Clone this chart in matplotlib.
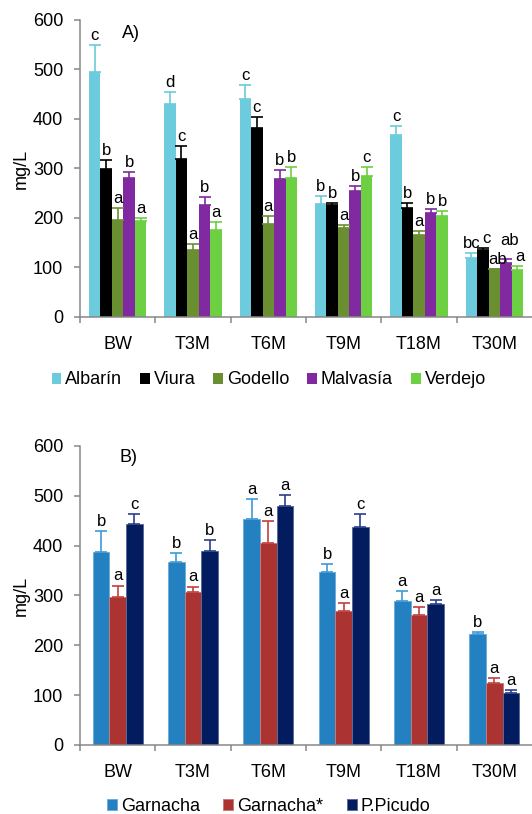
import numpy as np
import matplotlib
matplotlib.use("Agg")
import matplotlib.pyplot as plt
from matplotlib.colors import to_rgb

plt.rcParams['font.family'] = ['Liberation Sans', 'DejaVu Sans']

times = ['BW', 'T3M', 'T6M', 'T9M', 'T18M', 'T30M']

# Panel A - white varieties
white_names = ['Albarín', 'Viura', 'Godello', 'Malvasía', 'Verdejo']
white_colors = ['#6ccbdc', '#000000', '#6a8f30', '#8029a0', '#6dcf42']
albarin = [495, 431, 440, 229, 367, 119]
viura = [298, 320, 381, 226, 221, 135]
godello = [196, 135, 187, 179, 165, 96]
malvasia = [281, 227, 278, 254, 210, 110]
verdejo = [194, 176, 281, 284, 204, 94]
albarin_err = [55, 24, 29, 16, 19, 10]
viura_err = [19, 25, 22, 5, 10, 5]
godello_err = [24, 13, 16, 7, 8, 1]
malvasia_err = [11, 15, 19, 11, 8, 8]
verdejo_err = [6, 16, 22, 19, 10, 9]
albarin_let = ['c', 'd', 'c', 'b', 'c', 'bc']
viura_let = ['b', 'c', 'c', 'b', 'b', 'c']
godello_let = ['a', 'a', 'a', 'a', 'a', 'ab']
malvasia_let = ['b', 'b', 'b', 'b', 'b', 'ab']
verdejo_let = ['a', 'a', 'b', 'c', 'b', 'a']

# Panel B - red varieties
red_names = ['Garnacha', 'Garnacha*', 'P.Picudo']
red_colors = ['#2381c2', '#ab3433', '#031b5f']
red_err_colors = ['#3d9ad8', '#c23f3e', '#2a3f8c']
garnacha = [387, 367, 453, 348, 288, 222]
garnacha2 = [296, 307, 406, 268, 261, 124]
picudo = [444, 389, 480, 437, 283, 104]
garnacha_err = [43, 19, 40, 16, 21, 5]
garnacha2_err = [24, 11, 44, 16, 15, 10]
picudo_err = [19, 22, 21, 26, 7, 6]
garnacha_let = ['b', 'b', 'a', 'b', 'a', 'b']
garnacha2_let = ['a', 'a', 'a', 'a', 'a', 'a']
picudo_let = ['c', 'b', 'a', 'c', 'a', 'a']

white_vals = [albarin, viura, godello, malvasia, verdejo]
white_errs = [albarin_err, viura_err, godello_err, malvasia_err, verdejo_err]
white_lets = [albarin_let, viura_let, godello_let, malvasia_let, verdejo_let]
red_vals = [garnacha, garnacha2, picudo]
red_errs = [garnacha_err, garnacha2_err, picudo_err]
red_lets = [garnacha_let, garnacha2_let, picudo_let]

# nudges (points) for crowded letters at T30M in panel A: (series, time) -> (dx, dy)
nudges_A = {(1, 5): (2.5, 0), (2, 5): (2, 0), (3, 5): (3, 6), (4, 5): (2, 0)}

spine_col = '#878787'


def lighter(c, f=0.35):
    r, g, b = to_rgb(c)
    return (r + (1 - r) * f, g + (1 - g) * f, b + (1 - b) * f)


def style_axis(ax):
    ax.set_xlim(-0.5, len(times) - 0.5)
    ax.set_ylim(0, 600)
    ax.set_yticks(range(0, 601, 100))
    ax.spines['top'].set_visible(False)
    ax.spines['right'].set_visible(False)
    for s in ['left', 'bottom']:
        ax.spines[s].set_color(spine_col)
        ax.spines[s].set_linewidth(1.1)
    ax.set_xticks(np.arange(len(times)))
    ax.set_xticklabels(times)
    ax.set_xticks(np.arange(len(times)) - 0.5, minor=True)
    ax.tick_params(axis='x', which='major', length=0, pad=14, labelsize=13)
    ax.tick_params(axis='x', which='minor', length=4, width=1.1, color=spine_col)
    ax.tick_params(axis='y', length=4, width=1.1, color=spine_col, pad=8, labelsize=13)
    ax.set_ylabel('mg/L', fontsize=13)
    ax.yaxis.set_label_coords(-0.112, 0.5)


def grouped_bars(ax, vals, errs, lets, colors, err_colors, width, edge_lw, nudges=None):
    nudges = nudges or {}
    x = np.arange(len(times))
    n = len(vals)
    handles = []
    for i in range(n):
        pos = x + (i - (n - 1) / 2) * width
        v = np.array(vals[i])
        e = np.array(errs[i])
        b = ax.bar(pos, v, width, color=colors[i], edgecolor=lighter(colors[i]),
                   linewidth=edge_lw, yerr=[np.zeros_like(e), e],
                   error_kw=dict(ecolor=err_colors[i], elinewidth=1.2, capsize=4, capthick=1.2))
        handles.append(b)
        for j, (px, top, t) in enumerate(zip(pos, v + e, lets[i])):
            dx, dy = nudges.get((i, j), (0, 0))
            ax.annotate(t, (px, top), xytext=(dx, 1.5 + dy), textcoords='offset points',
                        ha='center', va='bottom', fontsize=12)
    return handles


fig = plt.figure(figsize=(5.32, 8.14), dpi=100)
axA = fig.add_axes([0.1504, 0.6106, 0.8496, 0.3649])
axB = fig.add_axes([0.1504, 0.0848, 0.8496, 0.3673])

style_axis(axA)
hA = grouped_bars(axA, white_vals, white_errs, white_lets, white_colors, white_colors,
                  0.153, 0, nudges_A)
axA.text(0.093, 0.956, 'A)', transform=axA.transAxes, ha='left', va='center', fontsize=13)

style_axis(axB)
hB = grouped_bars(axB, red_vals, red_errs, red_lets, red_colors, red_err_colors, 0.22, 0.7)
axB.text(0.088, 0.963, 'B)', transform=axB.transAxes, ha='left', va='center', fontsize=13)

fig.legend(hA, white_names, loc='center', bbox_to_anchor=(0.505, 0.5332), ncol=5,
           frameon=False, fontsize=13, handlelength=0.55, handleheight=0.55,
           handletextpad=0.2, columnspacing=1.0, borderpad=0)
fig.legend(hB, red_names, loc='center', bbox_to_anchor=(0.505, 0.0098), ncol=3,
           frameon=False, fontsize=13, handlelength=0.55, handleheight=0.55,
           handletextpad=0.2, columnspacing=1.3, borderpad=0)

fig.savefig('out.png', dpi=100)
